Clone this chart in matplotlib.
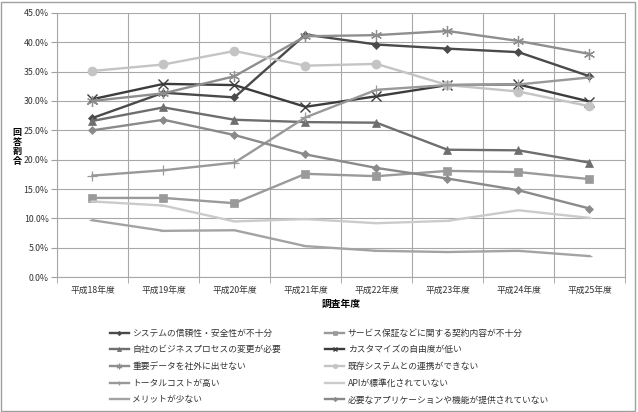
import matplotlib
matplotlib.use("Agg")
import matplotlib.pyplot as plt
import numpy as np
from matplotlib.patches import Rectangle
from matplotlib.ticker import FuncFormatter, MultipleLocator

plt.rcParams["font.family"] = ["Noto Sans CJK JP", "DejaVu Sans"]

# ---------------------------------------------------------------
# データ(回答割合 %)
# ---------------------------------------------------------------
years = ["平成18年度", "平成19年度", "平成20年度", "平成21年度",
         "平成22年度", "平成23年度", "平成24年度", "平成25年度"]

labels = [
    "システムの信頼性・安全性が不十分",
    "サービス保証などに関する契約内容が不十分",
    "自社のビジネスプロセスの変更が必要",
    "カスタマイズの自由度が低い",
    "重要データを社外に出せない",
    "既存システムとの連携ができない",
    "トータルコストが高い",
    "APIが標準化されていない",
    "メリットが少ない",
    "必要なアプリケーションや機能が提供されていない",
]

reliability = [27.1, 31.4, 30.6, 41.3, 39.6, 38.9, 38.3, 34.2]
contract    = [13.5, 13.5, 12.6, 17.6, 17.2, 18.1, 17.9, 16.7]
process     = [26.6, 28.9, 26.8, 26.4, 26.3, 21.7, 21.6, 19.5]
customize   = [30.3, 32.9, 32.7, 29.0, 30.8, 32.7, 32.8, 29.9]
data_out    = [30.0, 31.3, 34.2, 41.0, 41.2, 41.9, 40.2, 38.0]
legacy      = [35.1, 36.2, 38.5, 36.0, 36.3, 32.7, 31.6, 29.1]
cost        = [17.3, 18.2, 19.5, 27.2, 31.9, 32.7, 32.8, 34.0]
api         = [12.9, 12.2, 9.5, 9.9, 9.2, 9.6, 11.4, 10.1]
merit       = [9.7, 7.9, 8.0, 5.3, 4.5, 4.3, 4.5, 3.6]
app_func    = [25.0, 26.8, 24.2, 20.9, 18.6, 16.8, 14.8, 11.7]

series = [reliability, contract, process, customize, data_out,
          legacy, cost, api, merit, app_func]

# スタイル(グレースケール)
styles = [
    dict(color="#4a4a4a", marker="D", ms=4.5),
    dict(color="#9a9a9a", marker="s", ms=6),
    dict(color="#6e6e6e", marker="^", ms=6),
    dict(color="#3c3c3c", marker="x", ms=7, mew=1.0),
    dict(color="#8e8e8e", marker=(6, 2, 0), ms=8, mew=0.9),
    dict(color="#c4c4c4", marker="o", ms=6.5),
    dict(color="#999999", marker="+", ms=7, mew=0.9),
    dict(color="#cbcbcb", marker="_", ms=4, mew=0.8),
    dict(color="#a3a3a3", marker="_", ms=4, mew=0.8),
    dict(color="#8a8a8a", marker="D", ms=4.5),
]

fig = plt.figure(figsize=(6.38, 4.12), dpi=100)
ax = fig.add_axes([0.0893, 0.327, 0.8903, 0.642])

x = np.arange(len(years))
handles = []
for vals, lab, st in zip(series, labels, styles):
    h, = ax.plot(x, vals, color=st["color"], lw=1.7, marker=st["marker"],
                 ms=st["ms"], mew=st.get("mew", 0.5), mec=st["color"],
                 mfc=st["color"], label=lab, zorder=3)
    handles.append(h)

ax.set_xlim(-0.5, len(years) - 0.5)
ax.set_ylim(0, 45)
ax.yaxis.set_major_locator(MultipleLocator(5))
ax.yaxis.set_major_formatter(FuncFormatter(lambda v, p: f"{v:.1f}%"))

ax.set_xticks(x)
ax.set_xticklabels(years)
ax.set_xticks(np.arange(-0.5, len(years), 1.0), minor=True)
ax.tick_params(axis="x", which="major", length=0, labelsize=6.3,
               colors="#333333", pad=6)
ax.tick_params(axis="x", which="minor", length=4, color="#a0a0a0",
               direction="out")
ax.tick_params(axis="y", length=4, color="#a0a0a0", labelsize=6.3,
               labelcolor="#333333", direction="out", pad=2)

ax.grid(True, axis="y", which="major", color="#a8a8a8", lw=0.8)
ax.grid(True, axis="x", which="minor", color="#a8a8a8", lw=0.8)
ax.set_axisbelow(True)
ax.spines["top"].set_visible(False)
for side in ["left", "bottom", "right"]:
    ax.spines[side].set_color("#a8a8a8")
    ax.spines[side].set_linewidth(0.8)

ax.set_xlabel("調査年度", fontsize=7, fontweight="bold", labelpad=3)
fig.text(0.027, 0.643, "\n".join("回答割合"), fontsize=6.5,
         fontweight="bold", ha="center", va="center", linespacing=1.1)

# 凡例(2列、行方向)
order = [0, 2, 4, 6, 8, 1, 3, 5, 7, 9]
leg = fig.legend([handles[i] for i in order], [labels[i] for i in order],
                 ncol=2, loc="upper left", bbox_to_anchor=(0.165, 0.213),
                 frameon=False, fontsize=6.3, handlelength=2.2,
                 handletextpad=0.4, columnspacing=5.0, labelspacing=0.88,
                 borderpad=0, markerscale=0.5)
for t in leg.get_texts():
    t.set_color("#333333")

# チャートエリアの枠
fig.patches.append(Rectangle((0.002, 0.002), 0.994, 0.994,
                             transform=fig.transFigure, fill=False,
                             edgecolor="#a0a0a0", lw=1.0))

fig.savefig("out.png", dpi=100, facecolor="white")
